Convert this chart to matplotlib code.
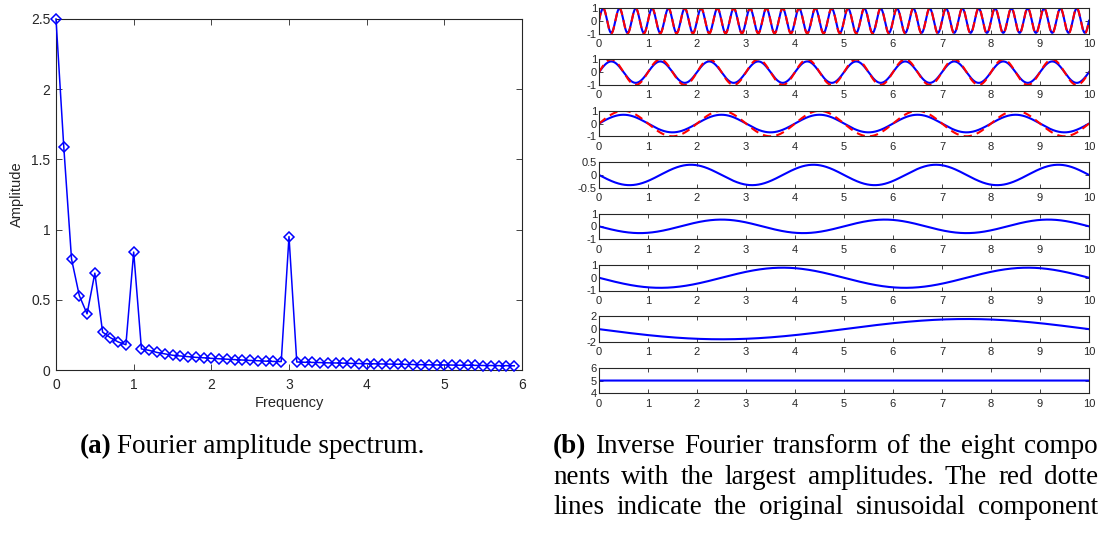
import numpy as np
import matplotlib
matplotlib.use("Agg")
import matplotlib.pyplot as plt

plt.rcParams["font.family"] = ["Liberation Sans", "DejaVu Sans"]
plt.rcParams["axes.unicode_minus"] = False

# ---- (a) one-sided amplitude spectrum --------------------------------------
freq = [0.0, 0.1, 0.2, 0.3, 0.4, 0.5, 0.6, 0.7, 0.8, 0.9,
        1.0, 1.1, 1.2, 1.3, 1.4, 1.5, 1.6, 1.7, 1.8, 1.9,
        2.0, 2.1, 2.2, 2.3, 2.4, 2.5, 2.6, 2.7, 2.8, 2.9,
        3.0, 3.1, 3.2, 3.3, 3.4, 3.5, 3.6, 3.7, 3.8, 3.9,
        4.0, 4.1, 4.2, 4.3, 4.4, 4.5, 4.6, 4.7, 4.8, 4.9,
        5.0, 5.1, 5.2, 5.3, 5.4, 5.5, 5.6, 5.7, 5.8, 5.9]
amplitude = [2.50, 1.59, 0.79, 0.53, 0.40, 0.69, 0.27, 0.23, 0.20, 0.18,
             0.84, 0.15, 0.14, 0.125, 0.115, 0.105, 0.100, 0.095, 0.090, 0.087,
             0.083, 0.080, 0.077, 0.074, 0.071, 0.068, 0.066, 0.063, 0.061, 0.060,
             0.95, 0.057, 0.055, 0.054, 0.053, 0.051, 0.050, 0.049, 0.047, 0.046,
             0.045, 0.044, 0.043, 0.042, 0.041, 0.040, 0.039, 0.038, 0.037, 0.036,
             0.036, 0.035, 0.034, 0.034, 0.033, 0.032, 0.032, 0.031, 0.031, 0.030]

# ---- (b) eight strongest components (frequency, amplitude, phase) ----------
comp_freq = [3.0, 1.0, 0.5, 0.4, 0.3, 0.2, 0.1, 0.0]
comp_amp = [0.95, 0.84, 0.69, 0.40, 0.53, 0.79, 1.59, 5.0]
comp_phase = [0.0, 0.0, 0.0, np.pi, np.pi, np.pi, np.pi, np.pi / 2]
comp_ylim = [(-1, 1), (-1, 1), (-1, 1), (-0.5, 0.5), (-1, 1), (-1, 1), (-2, 2), (4, 6)]
comp_yticks = [[-1, 0, 1], [-1, 0, 1], [-1, 0, 1], [-0.5, 0, 0.5],
               [-1, 0, 1], [-1, 0, 1], [-2, 0, 2], [4, 5, 6]]
comp_yticklabels = [["-1", "0", "1"], ["-1", "0", "1"], ["-1", "0", "1"],
                    ["-0.5", "0", "0.5"], ["-1", "0", "1"], ["-1", "0", "1"],
                    ["-2", "0", "2"], ["4", "5", "6"]]
# original unit-amplitude sinusoids behind the first three components
orig_freq = [3.0, 1.0, 0.5]
orig_amp = [1.0, 1.0, 1.0]

t = np.linspace(0, 10, 2001)

W, H = 1100, 533
fig = plt.figure(figsize=(W / 100, H / 100), dpi=100)


def rect(x0, y0, x1, y1):
    return [x0 / W, 1 - y1 / H, (x1 - x0) / W, (y1 - y0) / H]


EDGE = "#262626"


def matlab_style(ax, size, ticklen):
    for s in ax.spines.values():
        s.set_color(EDGE)
        s.set_linewidth(0.8)
    ax.tick_params(direction="in", top=True, right=True, length=ticklen,
                   width=0.6, color=EDGE, labelcolor=EDGE, labelsize=size)


# spectrum
ax = fig.add_axes(rect(56, 19, 522, 370))
ax.plot(freq, amplitude, color="#0000ff", lw=1.1, marker="D", ms=5.2,
        mfc="none", mec="#0000ff", mew=1.1, clip_on=False, zorder=3)
ax.set_xlim(0, 6)
ax.set_ylim(0, 2.5)
ax.set_xticks(range(7))
ax.set_yticks([0, 0.5, 1, 1.5, 2, 2.5])
ax.set_yticklabels(["0", "0.5", "1", "1.5", "2", "2.5"])
matlab_style(ax, 10, 4)
ax.tick_params(axis="x", pad=6)
ax.tick_params(axis="y", pad=4)
ax.set_xlabel("Frequency", fontsize=10.5, color=EDGE, labelpad=3)
ax.set_ylabel("Amplitude", fontsize=10.5, color=EDGE, labelpad=5)

# components
for i in range(8):
    top = 8 + i * 51.4
    a = fig.add_axes(rect(599, top, 1089, top + 25.5))
    y = comp_amp[i] * np.sin(2 * np.pi * comp_freq[i] * t + comp_phase[i])
    a.plot(t, y, color="#0000ff", lw=1.5)
    if i < len(orig_freq):
        a.plot(t, orig_amp[i] * np.sin(2 * np.pi * orig_freq[i] * t),
               color="#ff0000", lw=1.5, ls=(0, (4, 2.5)))
    a.set_xlim(0, 10)
    a.set_ylim(*comp_ylim[i])
    a.set_xticks(range(11))
    a.set_yticks(comp_yticks[i])
    a.set_yticklabels(comp_yticklabels[i])
    matlab_style(a, 8, 3)
    a.tick_params(axis="y", pad=1.5)
    a.tick_params(axis="x", pad=4)

# captions
serif = ["Liberation Serif", "DejaVu Serif"]
cap_size = 19.5
fig.canvas.draw()
renderer = fig.canvas.get_renderer()


def put(x, y, s, bold=False):
    txt = fig.text(x / W, 1 - y / H, s, fontsize=cap_size, family=serif,
                   weight="bold" if bold else "normal", va="baseline", ha="left")
    return txt.get_window_extent(renderer=renderer).width


def width_of(s, bold=False):
    p = fig.text(0, 0, s, fontsize=cap_size, family=serif,
                 weight="bold" if bold else "normal")
    w = p.get_window_extent(renderer=renderer).width
    p.remove()
    return w


def caption(x, y, label, lines, right=None, line_gap=30.5):
    for k, line in enumerate(lines):
        yy = y + k * line_gap
        if right is None:
            xx = x
            if k == 0:
                xx += put(xx, yy, label, True) + 5
            put(xx, yy, line)
            continue
        # justified line: spread the words so the line ends at `right`
        words = line.split(" ")
        bold = [False] * len(words)
        if k == 0:
            words = [label] + words
            bold = [True] + bold
        widths = [width_of(w, b) for w, b in zip(words, bold)]
        gap = (right - x - sum(widths)) / (len(words) - 1)
        xx = x
        for w, b, wd in zip(words, bold, widths):
            put(xx, yy, w, b)
            xx += wd + gap


caption(80, 453, "(a)", ["Fourier amplitude spectrum."])
caption(553, 453, "(b)", ["Inverse Fourier transform of the eight compo",
                          "nents with the largest amplitudes. The red dotte",
                          "lines indicate the original sinusoidal component"],
        right=1098)

fig.savefig("out.png", dpi=100)
